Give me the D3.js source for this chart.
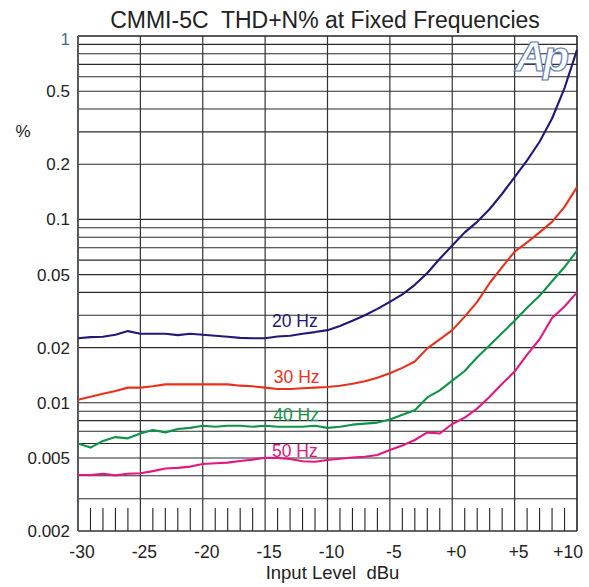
<!DOCTYPE html>
<html><head><meta charset="utf-8">
<script src="https://cdn.jsdelivr.net/npm/d3@7"></script>
<style>
html,body{margin:0;padding:0;background:#fff;}
svg{display:block;font-family:"Liberation Sans",Arial,sans-serif;}
text{white-space:pre;}
</style></head><body>
<svg id="c" width="589" height="587"></svg>
<script>
const levels = [-30,-29,-28,-27,-26,-25,-24,-23,-22,-21,-20,-19,-18,-17,-16,-15,-14,-13,-12,-11,-10,-9,-8,-7,-6,-5,-4,-3,-2,-1,0,1,2,3,4,5,6,7,8,9,10];
const thd20 = [0.0225,0.0228,0.0229,0.0235,0.0246,0.0238,0.0238,0.0238,0.0234,0.0238,0.0235,0.0232,0.0229,0.0226,0.0225,0.0225,0.0230,0.0232,0.0238,0.0243,0.0249,0.0262,0.0280,0.0300,0.0325,0.0355,0.0390,0.0440,0.0510,0.0610,0.0720,0.0850,0.0970,0.114,0.138,0.170,0.210,0.265,0.355,0.52,0.84];
const thd30 = [0.0104,0.0108,0.0112,0.0116,0.0121,0.0121,0.0123,0.0126,0.0126,0.0126,0.0126,0.0126,0.0126,0.0124,0.0123,0.0121,0.0119,0.0119,0.0120,0.0121,0.0122,0.0124,0.0127,0.0131,0.0137,0.0145,0.0155,0.0168,0.0198,0.0222,0.0249,0.0295,0.0355,0.0450,0.0550,0.0667,0.0750,0.0850,0.0970,0.117,0.150];
const thd40 = [0.0060,0.0057,0.0062,0.0065,0.0064,0.0068,0.0071,0.0069,0.0072,0.0073,0.0075,0.0074,0.0075,0.0075,0.0074,0.0075,0.0074,0.0074,0.0074,0.0075,0.0073,0.0074,0.0076,0.0077,0.0078,0.0081,0.0086,0.0091,0.0107,0.0117,0.0132,0.0149,0.0177,0.0206,0.0240,0.0280,0.0330,0.0383,0.0460,0.0550,0.0675];
const thd50 = [0.00404,0.00404,0.00410,0.00402,0.00410,0.00413,0.00424,0.00438,0.00442,0.00449,0.00464,0.00468,0.00472,0.00482,0.00490,0.00502,0.00500,0.00494,0.00480,0.00477,0.00488,0.00495,0.00503,0.00508,0.00519,0.00553,0.00585,0.00627,0.00690,0.00680,0.00766,0.0083,0.0093,0.0108,0.0127,0.0148,0.0183,0.0222,0.0290,0.0335,0.0400];
const seriesNames = ["20 Hz","30 Hz","40 Hz","50 Hz"];
const seriesColors = ["#22187a","#e8321e","#0f9447","#e3187f"];
const labelLevels = [-14.45,-14.3,-14.35,-14.45];
const labelValues = [0.0259,0.01287,0.00796,0.00508];
const xTickValues = [-30,-25,-20,-15,-10,-5,0,5,10];
const xTickLabels = ["-30","-25","-20","-15","-10","-5","+0","+5","+10"];
const yTickValues = [1,0.5,0.2,0.1,0.05,0.02,0.01,0.005,0.002];
const yTickLabels = ["1","0.5","0.2","0.1","0.05","0.02","0.01","0.005","0.002"];
const title = "CMMI-5C  THD+N% at Fixed Frequencies";
const xTitle = "Input Level  dBu";
const yUnit = "%";

const svg = d3.select("#c");
const L=78, R=577, T=36, B=531;
const x = d3.scaleLinear().domain([-30,10]).range([L,R]);
const y = d3.scaleLog().domain([0.002,1]).range([B,T]);

// horizontal grid
const hgrid = [];
for (const dec of [0.001,0.01,0.1]) for (let m=1;m<=9;m++){const v=+(m*dec).toPrecision(3); if(v>0.002 && v<1) hgrid.push(v);}
svg.append("g").selectAll("line").data(hgrid).join("line")
  .attr("x1",L).attr("x2",R).attr("y1",d=>y(d)).attr("y2",d=>y(d))
  .attr("stroke","#2a2a2a").attr("stroke-width",1.1);
// vertical grid
svg.append("g").selectAll("line").data(xTickValues.slice(1,-1)).join("line")
  .attr("x1",d=>x(d)).attr("x2",d=>x(d)).attr("y1",T).attr("y2",B)
  .attr("stroke","#333").attr("stroke-width",1.2);
// minor x ticks
const minor = levels.filter(d=>d%5!==0);
svg.append("g").selectAll("line").data(minor).join("line")
  .attr("x1",d=>x(d)).attr("x2",d=>x(d)).attr("y1",B).attr("y2",B-23)
  .attr("stroke","#222").attr("stroke-width",1.1);

// frame
svg.append("line").attr("x1",L).attr("x2",R).attr("y1",T).attr("y2",T).attr("stroke","#222").attr("stroke-width",1.6);
svg.append("line").attr("x1",L).attr("x2",R).attr("y1",B).attr("y2",B).attr("stroke","#333").attr("stroke-width",1.6);
svg.append("line").attr("x1",R).attr("x2",R).attr("y1",T).attr("y2",B).attr("stroke","#222").attr("stroke-width",1.6);
svg.append("line").attr("x1",L).attr("x2",L).attr("y1",T).attr("y2",B).attr("stroke","#555a5e").attr("stroke-width",2);

// Ap logo
svg.append("text").attr("x",515).attr("y",71).attr("font-size",43).attr("font-style","italic").attr("font-weight","bold")
  .attr("font-family","'Liberation Sans',Arial,sans-serif")
  .attr("fill","#fff").attr("stroke","#5a78b4").attr("stroke-width",1.2).attr("letter-spacing",-3).text("Ap");

// curves
const allSeries = [thd20,thd30,thd40,thd50];
const line = d3.line().x((d,i)=>x(levels[i])).y(d=>y(d));
svg.append("g").selectAll("path").data(allSeries).join("path")
  .attr("d",d=>line(d)).attr("fill","none")
  .attr("stroke",(d,i)=>seriesColors[i]).attr("stroke-width",2.1).attr("stroke-linejoin","round");
svg.append("g").selectAll("text").data(seriesNames).join("text")
  .attr("x",(d,i)=>x(labelLevels[i])).attr("y",(d,i)=>y(labelValues[i]))
  .attr("fill",(d,i)=>seriesColors[i]).attr("font-size",17.5).text(d=>d);

// y labels
svg.append("g").selectAll("text").data(yTickValues).join("text")
  .attr("x",70).attr("y",(d,i)=>y(d)+(i===0?9:6)).attr("text-anchor","end").attr("font-size",17)
  .attr("fill",(d,i)=>i===0?"#3d6f90":"#222").text((d,i)=>yTickLabels[i]);
svg.append("text").attr("x",23).attr("y",137).attr("text-anchor","middle").attr("font-size",17).attr("fill","#222").text(yUnit);

// x labels
const nX = xTickValues.length;
svg.append("g").selectAll("text").data(xTickValues).join("text")
  .attr("x",(d,i)=> i===nX-1 ? x(d)+6 : x(d)+4)
  .attr("y",558)
  .attr("text-anchor",(d,i)=> i===nX-1 ? "end" : "middle")
  .attr("font-size",17.5)
  .attr("fill","#222").text((d,i)=>xTickLabels[i]);
svg.append("text").attr("x",332.5).attr("y",579).attr("text-anchor","middle").attr("font-size",18.5).attr("fill","#222").text(xTitle);

// title
svg.append("text").attr("x",325).attr("y",28).attr("text-anchor","middle").attr("font-size",23).attr("fill","#222").text(title);
</script>
</body></html>
